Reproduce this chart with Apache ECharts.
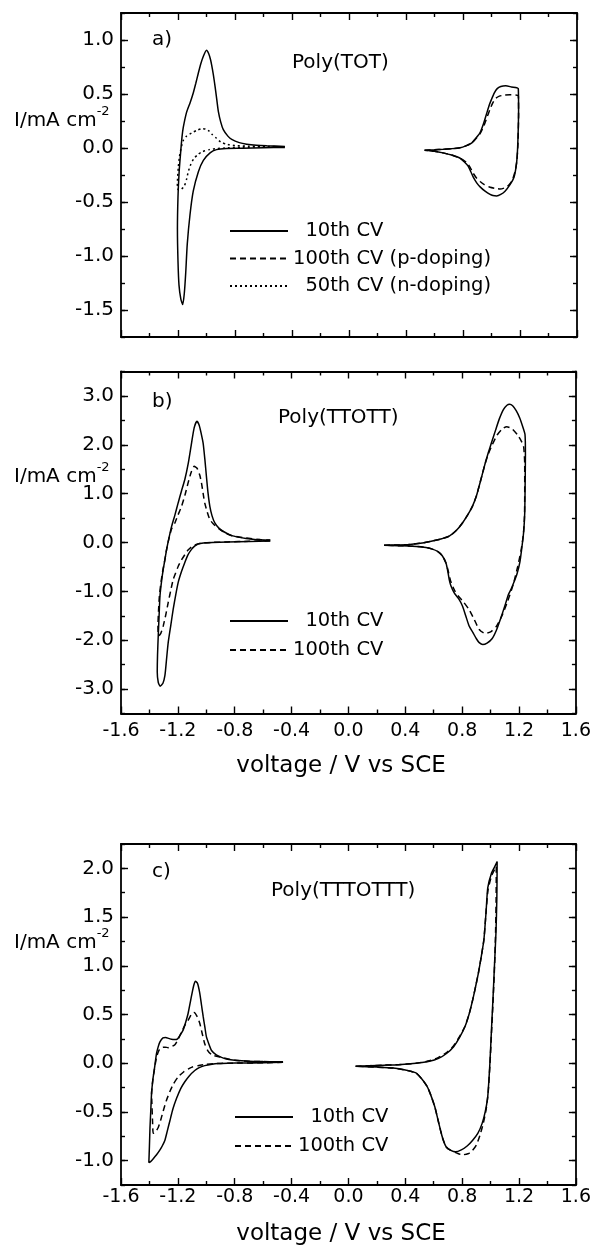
<!DOCTYPE html>
<html>
<head>
<meta charset="utf-8">
<script src="https://cdn.jsdelivr.net/npm/echarts@6/dist/echarts.min.js"></script>
<style>
html,body{margin:0;padding:0;background:#fff;}
#chart{width:594px;height:1247px;}
</style>
</head>
<body>
<div id="chart"></div>
<script>
// ---------------- data (voltage V vs SCE, current mA cm^-2) ----------------
const xTicks = [-1.6, -1.2, -0.8, -0.4, 0.0, 0.4, 0.8, 1.2, 1.6];
const yTicksA = [-1.5, -1.0, -0.5, 0.0, 0.5, 1.0];
const yTicksB = [-3.0, -2.0, -1.0, 0.0, 1.0, 2.0, 3.0];
const yTicksC = [-1.0, -0.5, 0.0, 0.5, 1.0, 1.5, 2.0];

const legendA = ['10th CV', '100th CV (p-doping)', '50th CV (n-doping)'];
const legendB = ['10th CV', '100th CV'];
const legendC = ['10th CV', '100th CV'];

// Panel a) Poly(TOT)
const a_cv10_n = [[-0.45,0.005],[-0.6,0.002],[-0.75,-0.002],[-0.86,-0.004],[-0.93,-0.015],[-0.975,-0.045],[-1.022,-0.115],[-1.057,-0.22],[-1.093,-0.40],[-1.116,-0.62],[-1.135,-0.89],[-1.146,-1.16],[-1.156,-1.35],[-1.167,-1.45],[-1.18,-1.40],[-1.193,-1.27],[-1.2,-1.05],[-1.204,-0.75],[-1.2,-0.45],[-1.192,-0.22],[-1.182,-0.05],[-1.172,0.10],[-1.163,0.19],[-1.14,0.33],[-1.115,0.42],[-1.093,0.51],[-1.075,0.60],[-1.058,0.69],[-1.04,0.78],[-1.022,0.85],[-1.0,0.905],[-0.985,0.875],[-0.972,0.82],[-0.964,0.77],[-0.952,0.68],[-0.94,0.57],[-0.928,0.45],[-0.917,0.34],[-0.9,0.24],[-0.882,0.17],[-0.85,0.11],[-0.823,0.08],[-0.77,0.05],[-0.718,0.035],[-0.65,0.025],[-0.577,0.02],[-0.45,0.015]];
const a_cv10_p = [[0.53,-0.02],[0.6,-0.016],[0.66,-0.012],[0.72,-0.006],[0.78,0.003],[0.82,0.02],[0.86,0.045],[0.89,0.09],[0.919,0.14],[0.945,0.23],[0.966,0.32],[0.985,0.40],[1.0,0.45],[1.02,0.51],[1.04,0.55],[1.065,0.57],[1.1,0.577],[1.14,0.565],[1.188,0.55],[1.19,0.35],[1.186,0.1],[1.18,-0.08],[1.172,-0.18],[1.158,-0.27],[1.13,-0.34],[1.095,-0.40],[1.065,-0.43],[1.036,-0.444],[1.01,-0.44],[0.99,-0.43],[0.955,-0.40],[0.92,-0.36],[0.895,-0.32],[0.872,-0.27],[0.855,-0.22],[0.837,-0.17],[0.81,-0.13],[0.78,-0.095],[0.72,-0.065],[0.66,-0.045],[0.6,-0.03],[0.53,-0.02]];
const a_cv100_p = [[0.53,-0.02],[0.6,-0.016],[0.66,-0.012],[0.72,-0.006],[0.78,0.003],[0.82,0.02],[0.86,0.045],[0.89,0.085],[0.919,0.13],[0.945,0.2],[0.97,0.29],[0.99,0.36],[1.01,0.42],[1.03,0.46],[1.055,0.48],[1.09,0.49],[1.13,0.493],[1.188,0.485],[1.19,0.3],[1.186,0.05],[1.178,-0.12],[1.165,-0.22],[1.145,-0.3],[1.12,-0.345],[1.09,-0.37],[1.06,-0.38],[1.03,-0.375],[0.99,-0.364],[0.95,-0.34],[0.92,-0.31],[0.896,-0.28],[0.87,-0.23],[0.85,-0.18],[0.83,-0.14],[0.8,-0.11],[0.78,-0.095],[0.72,-0.065],[0.66,-0.045],[0.6,-0.03],[0.53,-0.02]];
const a_cv50_n = [[-0.45,0.012],[-0.6,0.01],[-0.75,0.006],[-0.85,0.002],[-0.92,-0.005],[-0.98,-0.015],[-1.03,-0.035],[-1.06,-0.06],[-1.09,-0.10],[-1.11,-0.15],[-1.128,-0.22],[-1.14,-0.29],[-1.155,-0.35],[-1.175,-0.38],[-1.195,-0.39],[-1.205,-0.37],[-1.203,-0.28],[-1.198,-0.18],[-1.19,-0.08],[-1.178,0.0],[-1.163,0.07],[-1.14,0.11],[-1.104,0.14],[-1.065,0.165],[-1.03,0.18],[-1.005,0.175],[-0.98,0.155],[-0.96,0.125],[-0.93,0.09],[-0.9,0.055],[-0.86,0.035],[-0.8,0.022],[-0.7,0.017],[-0.58,0.014],[-0.45,0.012]];

// Panel b) Poly(TTOTT)
const b_cv10_n = [[-0.55,0.03],[-0.7,0.02],[-0.85,0.01],[-0.96,0.0],[-1.02,-0.01],[-1.058,-0.03],[-1.08,-0.07],[-1.104,-0.14],[-1.13,-0.26],[-1.151,-0.41],[-1.175,-0.6],[-1.198,-0.82],[-1.215,-1.07],[-1.233,-1.37],[-1.25,-1.7],[-1.268,-2.05],[-1.28,-2.4],[-1.291,-2.72],[-1.305,-2.88],[-1.325,-2.94],[-1.338,-2.86],[-1.345,-2.65],[-1.343,-2.3],[-1.338,-1.91],[-1.332,-1.5],[-1.326,-1.1],[-1.315,-0.8],[-1.303,-0.55],[-1.29,-0.33],[-1.279,-0.14],[-1.262,0.1],[-1.244,0.33],[-1.22,0.57],[-1.198,0.81],[-1.175,1.05],[-1.151,1.29],[-1.127,1.62],[-1.104,2.03],[-1.085,2.35],[-1.066,2.48],[-1.05,2.4],[-1.035,2.22],[-1.022,2.03],[-1.01,1.7],[-0.999,1.35],[-0.988,1.02],[-0.975,0.74],[-0.96,0.55],[-0.94,0.4],[-0.91,0.29],[-0.87,0.21],[-0.82,0.14],[-0.777,0.11],[-0.72,0.08],[-0.66,0.06],[-0.55,0.045]];
const b_cv100_n = [[-0.55,0.035],[-0.7,0.025],[-0.85,0.012],[-0.96,0.002],[-1.03,-0.01],[-1.07,-0.04],[-1.104,-0.09],[-1.13,-0.16],[-1.151,-0.25],[-1.175,-0.36],[-1.198,-0.49],[-1.215,-0.62],[-1.233,-0.76],[-1.25,-0.98],[-1.268,-1.23],[-1.285,-1.48],[-1.303,-1.71],[-1.32,-1.86],[-1.336,-1.91],[-1.34,-1.7],[-1.336,-1.4],[-1.33,-1.1],[-1.318,-0.8],[-1.305,-0.56],[-1.29,-0.33],[-1.279,-0.14],[-1.262,0.09],[-1.244,0.28],[-1.221,0.4],[-1.198,0.57],[-1.174,0.74],[-1.15,0.97],[-1.128,1.22],[-1.105,1.45],[-1.085,1.56],[-1.065,1.52],[-1.046,1.38],[-1.034,1.22],[-1.022,1.0],[-1.011,0.81],[-0.993,0.62],[-0.975,0.47],[-0.95,0.38],[-0.91,0.28],[-0.87,0.2],[-0.82,0.14],[-0.72,0.09],[-0.62,0.06],[-0.55,0.05]];
const b_cv10_p = [[0.25,-0.055],[0.35,-0.05],[0.43,-0.04],[0.52,-0.01],[0.59,0.03],[0.65,0.07],[0.709,0.13],[0.76,0.25],[0.802,0.4],[0.84,0.57],[0.872,0.74],[0.9,0.95],[0.919,1.15],[0.94,1.38],[0.96,1.6],[0.982,1.82],[1.006,2.04],[1.035,2.3],[1.06,2.52],[1.09,2.72],[1.115,2.81],[1.134,2.83],[1.155,2.8],[1.18,2.7],[1.205,2.55],[1.225,2.38],[1.242,2.21],[1.245,1.8],[1.243,1.2],[1.24,0.6],[1.232,0.2],[1.22,-0.1],[1.206,-0.4],[1.185,-0.65],[1.166,-0.8],[1.145,-0.95],[1.126,-1.06],[1.1,-1.3],[1.07,-1.56],[1.04,-1.8],[1.01,-1.97],[0.975,-2.06],[0.945,-2.09],[0.92,-2.05],[0.9,-1.97],[0.875,-1.84],[0.849,-1.71],[0.825,-1.5],[0.802,-1.3],[0.775,-1.15],[0.744,-1.03],[0.72,-0.88],[0.709,-0.76],[0.697,-0.56],[0.686,-0.42],[0.66,-0.27],[0.627,-0.18],[0.585,-0.13],[0.545,-0.1],[0.45,-0.075],[0.35,-0.065],[0.25,-0.055]];
const b_cv100_p = [[0.25,-0.055],[0.35,-0.05],[0.43,-0.04],[0.52,-0.01],[0.59,0.03],[0.65,0.07],[0.709,0.13],[0.76,0.25],[0.802,0.4],[0.84,0.57],[0.872,0.74],[0.9,0.95],[0.919,1.15],[0.94,1.38],[0.96,1.6],[0.982,1.8],[1.01,1.99],[1.046,2.2],[1.08,2.32],[1.113,2.37],[1.15,2.33],[1.19,2.2],[1.215,2.08],[1.232,1.97],[1.24,1.6],[1.24,1.0],[1.238,0.5],[1.23,0.15],[1.215,-0.15],[1.19,-0.5],[1.16,-0.85],[1.12,-1.2],[1.08,-1.5],[1.04,-1.72],[1.0,-1.83],[0.96,-1.86],[0.92,-1.78],[0.884,-1.57],[0.85,-1.38],[0.81,-1.22],[0.78,-1.12],[0.75,-1.0],[0.72,-0.8],[0.7,-0.56],[0.686,-0.42],[0.66,-0.27],[0.627,-0.18],[0.585,-0.13],[0.545,-0.1],[0.45,-0.075],[0.35,-0.065],[0.25,-0.055]];

// Panel c) Poly(TTTOTTT)
const c_cv10_n = [[-0.46,0.01],[-0.6,0.005],[-0.75,0.002],[-0.85,0.0],[-0.917,-0.003],[-0.96,-0.01],[-1.011,-0.025],[-1.05,-0.045],[-1.081,-0.075],[-1.12,-0.13],[-1.151,-0.19],[-1.18,-0.26],[-1.209,-0.36],[-1.235,-0.47],[-1.256,-0.59],[-1.275,-0.70],[-1.291,-0.79],[-1.31,-0.85],[-1.326,-0.89],[-1.35,-0.94],[-1.373,-0.98],[-1.392,-1.01],[-1.404,-1.02],[-1.40,-0.85],[-1.396,-0.66],[-1.39,-0.47],[-1.385,-0.31],[-1.376,-0.17],[-1.366,-0.07],[-1.35,0.10],[-1.338,0.17],[-1.326,0.22],[-1.305,0.26],[-1.286,0.265],[-1.265,0.255],[-1.244,0.245],[-1.222,0.243],[-1.202,0.25],[-1.183,0.29],[-1.163,0.34],[-1.145,0.42],[-1.128,0.51],[-1.112,0.63],[-1.1,0.72],[-1.088,0.80],[-1.076,0.84],[-1.062,0.82],[-1.046,0.72],[-1.034,0.60],[-1.022,0.48],[-1.01,0.37],[-0.999,0.27],[-0.98,0.19],[-0.963,0.13],[-0.93,0.085],[-0.893,0.06],[-0.85,0.04],[-0.8,0.03],[-0.7,0.02],[-0.6,0.017],[-0.46,0.015]];
const c_cv100_n = [[-0.46,0.01],[-0.6,0.005],[-0.75,0.002],[-0.85,0.0],[-0.95,-0.005],[-1.0,-0.012],[-1.058,-0.025],[-1.1,-0.04],[-1.128,-0.06],[-1.16,-0.09],[-1.198,-0.14],[-1.23,-0.21],[-1.256,-0.29],[-1.28,-0.38],[-1.303,-0.49],[-1.32,-0.58],[-1.338,-0.66],[-1.355,-0.70],[-1.373,-0.72],[-1.378,-0.6],[-1.383,-0.4],[-1.385,-0.31],[-1.376,-0.17],[-1.366,-0.07],[-1.35,0.06],[-1.334,0.13],[-1.314,0.16],[-1.29,0.165],[-1.268,0.16],[-1.245,0.17],[-1.221,0.19],[-1.2,0.24],[-1.174,0.32],[-1.15,0.39],[-1.128,0.44],[-1.105,0.50],[-1.086,0.52],[-1.065,0.48],[-1.046,0.41],[-1.028,0.30],[-1.011,0.20],[-0.99,0.13],[-0.96,0.085],[-0.893,0.06],[-0.8,0.03],[-0.7,0.02],[-0.6,0.017],[-0.46,0.015]];
const c_cv10_p = [[0.05,-0.03],[0.15,-0.025],[0.25,-0.02],[0.35,-0.015],[0.475,0.0],[0.57,0.02],[0.634,0.05],[0.69,0.10],[0.74,0.17],[0.78,0.26],[0.82,0.376],[0.85,0.51],[0.874,0.65],[0.895,0.79],[0.914,0.925],[0.935,1.10],[0.953,1.27],[0.968,1.55],[0.98,1.8],[1.006,1.95],[1.03,2.02],[1.046,2.07],[1.044,1.7],[1.038,1.35],[1.028,1.03],[1.018,0.7],[1.006,0.34],[0.995,0.0],[0.98,-0.34],[0.962,-0.50],[0.94,-0.62],[0.91,-0.72],[0.874,-0.79],[0.835,-0.85],[0.794,-0.89],[0.754,-0.91],[0.72,-0.895],[0.688,-0.86],[0.665,-0.78],[0.648,-0.69],[0.628,-0.57],[0.608,-0.45],[0.58,-0.33],[0.554,-0.24],[0.515,-0.16],[0.475,-0.10],[0.4,-0.07],[0.315,-0.05],[0.2,-0.04],[0.05,-0.03]];
const c_cv100_p = [[0.05,-0.03],[0.15,-0.025],[0.25,-0.02],[0.35,-0.015],[0.475,0.0],[0.57,0.025],[0.634,0.06],[0.69,0.11],[0.74,0.18],[0.78,0.27],[0.82,0.38],[0.85,0.51],[0.874,0.65],[0.895,0.79],[0.914,0.925],[0.935,1.1],[0.953,1.27],[0.968,1.55],[0.982,1.78],[1.006,1.92],[1.025,1.98],[1.04,2.02],[1.039,1.7],[1.035,1.35],[1.028,1.0],[1.017,0.62],[1.006,0.3],[0.996,0.0],[0.983,-0.3],[0.968,-0.48],[0.948,-0.62],[0.925,-0.74],[0.9,-0.84],[0.87,-0.9],[0.84,-0.93],[0.8,-0.94],[0.76,-0.92],[0.72,-0.895],[0.688,-0.86],[0.665,-0.78],[0.648,-0.69],[0.628,-0.57],[0.608,-0.45],[0.58,-0.33],[0.554,-0.24],[0.515,-0.16],[0.475,-0.1],[0.4,-0.07],[0.315,-0.05],[0.2,-0.04],[0.05,-0.03]];

// ---------------- chart ----------------
const FONT = 'DejaVu Sans';
const BLACK = '#000';
const fmt1 = v => (Math.abs(v) < 1e-9 ? '0.0' : Number(v).toFixed(1));

const grids = [
  {left: 121, top: 13, width: 456, height: 324},
  {left: 121, top: 371.5, width: 456, height: 342},
  {left: 121, top: 844, width: 456, height: 341}
];
const yCfg = [
  {min: -1.75, max: 1.25, minor: 0.25, major: yTicksA},
  {min: -3.5, max: 3.5, minor: 0.5, major: yTicksB},
  {min: -1.25, max: 2.25, minor: 0.25, major: yTicksC}
];
const xLabelShow = [false, true, true];
const xLabelMargin = [8, 8, 3];

const axisLineStyle = {color: BLACK, width: 1.8};
const tickStyle = {color: BLACK, width: 1.4};

const xAxes = [], yAxes = [];
grids.forEach((g, i) => {
  ['bottom', 'top'].forEach(pos => {
    xAxes.push({
      type: 'value', gridIndex: i, position: pos,
      min: xTicks[0], max: xTicks[xTicks.length - 1], interval: 0.4,
      axisLine: {show: true, onZero: false, lineStyle: axisLineStyle},
      axisTick: {show: true, inside: true, length: 7, lineStyle: tickStyle},
      minorTick: {show: true, splitNumber: 2, length: 4, lineStyle: tickStyle},
      axisLabel: {show: pos === 'bottom' && xLabelShow[i], margin: xLabelMargin[i], fontSize: 19, fontFamily: FONT, color: BLACK, formatter: fmt1},
      splitLine: {show: false}, minorSplitLine: {show: false}
    });
  });
  const c = yCfg[i];
  ['left', 'right'].forEach(pos => {
    yAxes.push({
      type: 'value', gridIndex: i, position: pos, min: c.min, max: c.max,
      axisLine: {show: true, onZero: false, lineStyle: axisLineStyle},
      axisTick: {show: true, inside: true, length: 7, lineStyle: tickStyle, customValues: c.major},
      axisLabel: {show: pos === 'left', customValues: c.major, margin: 7, fontSize: 20, fontFamily: FONT, color: BLACK, formatter: fmt1},
      splitLine: {show: false}
    });
    yAxes.push({
      type: 'value', gridIndex: i, position: pos, min: c.min, max: c.max, interval: c.minor,
      axisLine: {show: false, onZero: false},
      axisTick: {show: true, inside: true, length: 4, lineStyle: tickStyle},
      axisLabel: {show: false},
      splitLine: {show: false}
    });
  });
});

function line(name, grid, data, type) {
  return {
    type: 'line', name: name, xAxisIndex: grid * 2, yAxisIndex: grid * 4,
    data: data, symbol: 'none', showSymbol: false, smooth: 0.2,
    lineStyle: {color: BLACK, width: 1.5, type: type},
    itemStyle: {color: BLACK}, silent: true, animation: false
  };
}
const DASH = [6, 4], DOT = [2, 3];
const series = [
  line(legendA[0], 0, a_cv10_n, 'solid'),
  line(legendA[0], 0, a_cv10_p, 'solid'),
  line(legendA[1], 0, a_cv100_p, DASH),
  line(legendA[2], 0, a_cv50_n, DOT),
  line(legendB[0], 1, b_cv10_n, 'solid'),
  line(legendB[0], 1, b_cv10_p, 'solid'),
  line(legendB[1], 1, b_cv100_n, DASH),
  line(legendB[1], 1, b_cv100_p, DASH),
  line(legendC[0], 2, c_cv10_n, 'solid'),
  line(legendC[0], 2, c_cv10_p, 'solid'),
  line(legendC[1], 2, c_cv100_n, DASH),
  line(legendC[1], 2, c_cv100_p, DASH)
];

const legFmt = n => (n.indexOf('100th') === 0 ? n : '  ' + n);
function legend(data, left, top, gap) {
  return {
    data: data, orient: 'vertical', left: left, top: top, padding: 0,
    itemWidth: 58, itemHeight: 14, itemGap: gap, selectedMode: false,
    itemStyle: {opacity: 0, borderWidth: 0},
    textStyle: {fontSize: 19.5, fontFamily: FONT, color: BLACK, lineHeight: 22},
    formatter: legFmt
  };
}

function txt(text, x, y, size, align) {
  return {type: 'text', x: x, y: y, silent: true,
    style: {text: text, fontSize: size, fontFamily: FONT, fill: BLACK, align: align || 'left', verticalAlign: 'middle'}};
}
function ylab(x, y) {
  return {type: 'text', x: x, y: y, silent: true,
    style: {text: '{m|I/mA cm}{s|-2}', fill: BLACK, verticalAlign: 'middle',
      rich: {m: {fontSize: 20, fontFamily: FONT, fill: BLACK, lineHeight: 26, verticalAlign: 'bottom'},
             s: {fontSize: 13, fontFamily: FONT, fill: BLACK, lineHeight: 13, verticalAlign: 'top'}}}};
}

const option = {
  animation: false,
  backgroundColor: '#fff',
  grid: grids,
  xAxis: xAxes,
  yAxis: yAxes,
  series: series,
  legend: [legend(legendA, 229, 220, 5.5), legend(legendB, 229, 610, 7), legend(legendC, 234, 1106, 7)],
  graphic: [
    txt('a)', 152, 40, 20), txt('Poly(TOT)', 292, 63, 20),
    txt('b)', 152, 402, 20), txt('Poly(TTOTT)', 278, 418, 20),
    txt('c)', 152, 872, 20), txt('Poly(TTTOTTT)', 271, 891, 20),
    ylab(14, 118), ylab(14, 474), ylab(14, 940),
    txt('voltage / V vs SCE', 341, 766, 23, 'center'),
    txt('voltage / V vs SCE', 341, 1234, 23, 'center')
  ]
};
const chart = echarts.init(document.getElementById('chart'), null, {renderer: 'canvas'});
chart.setOption(option);
</script>
</body>
</html>
